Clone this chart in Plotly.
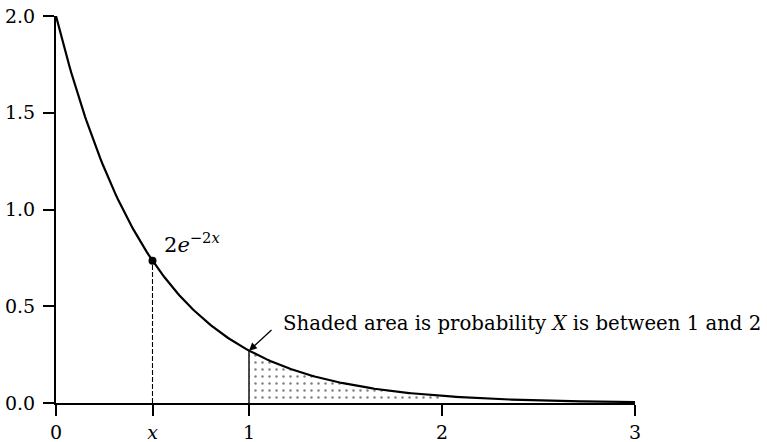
import numpy as np
import plotly.graph_objects as go

# Exponential density f(x) = 2 e^{-2x} on [0, 3]
rate = 2.0
x_curve = np.linspace(0, 3, 301)
y_curve = rate * np.exp(-rate * x_curve)

# Marked point x and its density value
x_mark = 0.5
y_mark = rate * np.exp(-rate * x_mark)

# Shaded interval [1, 2]
x_shade = np.linspace(1, 2, 101)
y_shade = rate * np.exp(-rate * x_shade)
y_at_1 = rate * np.exp(-rate * 1.0)

x_tickvals = [0, 0.5, 1, 2, 3]
x_ticktext = ["0", "<i>x</i>", "1", "2", "3"]
y_tickvals = [0.0, 0.5, 1.0, 1.5, 2.0]
y_ticktext = ["0.0", "0.5", "1.0", "1.5", "2.0"]

FONT = "DejaVu Serif"

fig = go.Figure()

fig.add_trace(go.Scatter(
    x=x_shade, y=y_shade, mode="lines", line=dict(width=0),
    fill="tozeroy", fillcolor="rgba(0,0,0,0)",
    fillpattern=dict(shape=".", fgcolor="black", bgcolor="white", size=7, solidity=0.1),
    hoverinfo="skip", showlegend=False,
))

fig.add_trace(go.Scatter(
    x=[1, 1], y=[0, y_at_1], mode="lines",
    line=dict(color="black", width=1.4), showlegend=False, hoverinfo="skip",
))

fig.add_trace(go.Scatter(
    x=[x_mark, x_mark], y=[0, y_mark], mode="lines",
    line=dict(color="black", width=1.1, dash="5px,2px"), showlegend=False, hoverinfo="skip",
))

fig.add_trace(go.Scatter(
    x=x_curve, y=y_curve, mode="lines",
    line=dict(color="black", width=2.2), showlegend=False,
))

fig.add_trace(go.Scatter(
    x=[x_mark], y=[y_mark], mode="markers",
    marker=dict(color="black", size=8), showlegend=False,
))

fig.add_annotation(
    x=x_mark, y=y_mark, xref="x", yref="y",
    text="2<i>e</i><sup>−2<i>x</i></sup>", showarrow=False,
    xanchor="left", yanchor="bottom", xshift=9, yshift=2,
    font=dict(family=FONT, size=21, color="black"),
)

fig.add_annotation(
    x=1, y=y_at_1, xref="x", yref="y",
    ax=24, ay=-22, axref="pixel", ayref="pixel",
    text="", showarrow=True, arrowhead=2, arrowsize=1.2, arrowwidth=1.3,
    arrowcolor="black",
)

fig.add_annotation(
    x=1, y=y_at_1, xref="x", yref="y",
    text="Shaded area is probability <i>X</i> is between 1 and 2",
    showarrow=False, xanchor="left", yanchor="middle",
    xshift=32, yshift=27,
    font=dict(family=FONT, size=19.7, color="black"),
)

axis_common = dict(
    showgrid=False, zeroline=False, showline=True, linecolor="black", linewidth=2,
    ticks="outside", ticklen=11, tickwidth=2, tickcolor="black",
    tickfont=dict(family=FONT, size=19, color="black"),
    automargin=False,
)

fig.update_xaxes(range=[0, 3], tickvals=x_tickvals, ticktext=x_ticktext, **axis_common)
fig.update_yaxes(range=[0, 2], tickvals=y_tickvals, ticktext=y_ticktext,
                 ticklabelstandoff=4, **axis_common)

fig.update_layout(
    width=767, height=442,
    margin=dict(l=56, r=132, t=16, b=39),
    plot_bgcolor="white", paper_bgcolor="white",
)

fig.write_html("out.html")
